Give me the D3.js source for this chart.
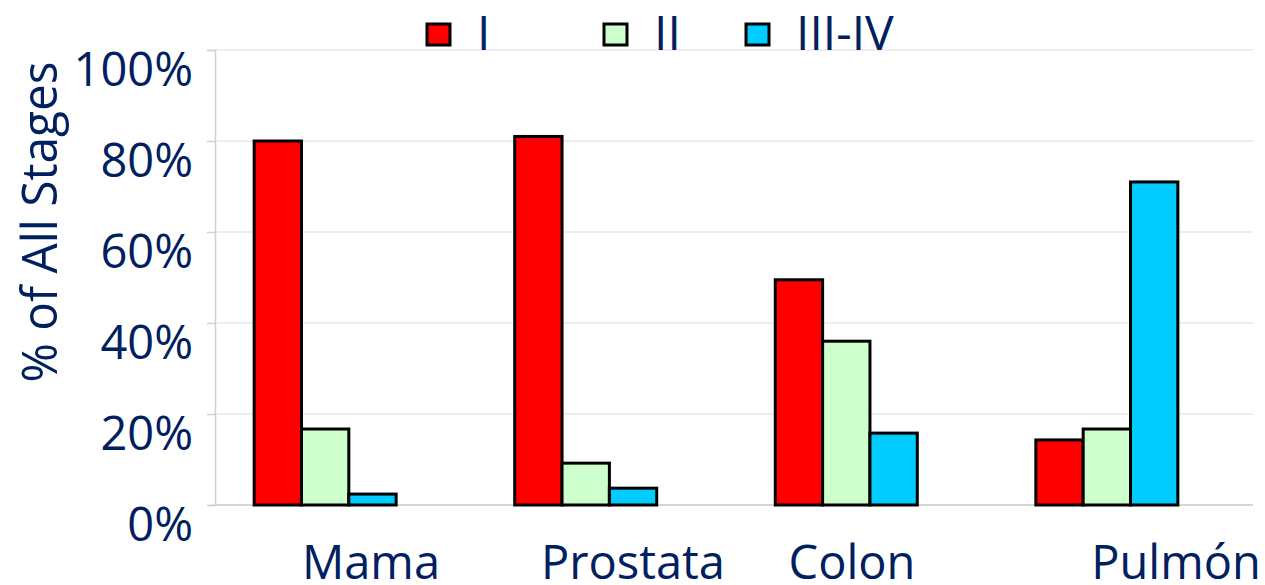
<!DOCTYPE html>
<html><head><meta charset="utf-8">
<script src="https://cdn.jsdelivr.net/npm/d3@7"></script>
<style>body{margin:0;background:#fff}svg{display:block}</style>
</head><body>
<script>
const categories = ["Mama", "Prostata", "Colon", "Pulmón"];
const series = ["I", "II", "III-IV"];
const stageI = [80, 81, 49.5, 14.3];
const stageII = [16.7, 9.2, 36, 16.7];
const stageIIIIV = [2.4, 3.7, 15.8, 71];
const yTicks = [0, 20, 40, 60, 80, 100];
const colors = ["#ff0000", "#ccffcc", "#00ccff"];

const W = 1265, H = 585;
const svg = d3.select("body").append("svg").attr("width", W).attr("height", H);
const navy = "#002060";
const font = "'Open Sans', 'DejaVu Sans', sans-serif";

const y = d3.scaleLinear().domain([0, 100]).range([505, 50]);
const x0 = d3.scaleBand().domain(categories).range([195, 1237]).paddingInner(0.455).paddingOuter(0.227);
const x1 = d3.scaleBand().domain(series).range([0, x0.bandwidth()]);

// gridlines
svg.append("g").selectAll("line").data(yTicks).join("line")
  .attr("x1", 215).attr("x2", 1253)
  .attr("y1", d => y(d)).attr("y2", d => y(d))
  .attr("stroke", d => d === 0 ? "#c8c8c8" : "#e8e8e8").attr("stroke-width", 1.5);

// y axis
const yAxis = d3.axisLeft(y).tickValues(yTicks).tickSize(8).tickFormat(d => d + "%");
const ga = svg.append("g").attr("transform", "translate(215,0)").call(yAxis);
ga.select(".domain").attr("stroke", "#d0d0d0").attr("stroke-width", 1.5);
ga.selectAll(".tick line").attr("stroke", "#d0d0d0").attr("stroke-width", 1.5);
ga.selectAll(".tick text").attr("x", -22).attr("y", 35).attr("dy", 0)
  .attr("fill", navy).style("font-family", font).style("font-size", "47px");

// bars
const rows = categories.map((c, i) => ({c, vals: [stageI[i], stageII[i], stageIIIIV[i]]}));
const g = svg.append("g").selectAll("g").data(rows).join("g")
  .attr("transform", d => `translate(${x0(d.c)},0)`);
g.selectAll("rect").data(d => d.vals.map((v, j) => ({s: series[j], v, j}))).join("rect")
  .attr("x", d => x1(d.s)).attr("width", x1.bandwidth())
  .attr("y", d => y(d.v)).attr("height", d => y(0) - y(d.v))
  .attr("fill", d => colors[d.j]).attr("stroke", "#000").attr("stroke-width", 3);

// x labels (placed as in the reference, offset from the bar groups)
const labelX = d3.scaleOrdinal().domain(categories).range([371, 633, 852, 1176]);
svg.append("g").selectAll("text").data(categories).join("text")
  .attr("x", d => labelX(d)).attr("y", 579)
  .attr("text-anchor", "middle").attr("fill", navy)
  .style("font-family", font).style("font-size", "47px").text(d => d);

// y title
svg.append("text").attr("transform", "translate(57,222) rotate(-90)")
  .attr("text-anchor", "middle").attr("fill", navy)
  .attr("textLength", 321).attr("lengthAdjust", "spacingAndGlyphs")
  .style("font-family", font).style("font-size", "50px").text("% of All Stages");

// legend
const legX = d3.scaleOrdinal().domain(series).range([427, 604, 746]);
const lg = svg.append("g").selectAll("g").data(series).join("g")
  .attr("transform", d => `translate(${legX(d)},0)`);
lg.append("rect").attr("x", 0).attr("y", 24).attr("width", 23).attr("height", 21)
  .attr("fill", (d, i) => colors[i]).attr("stroke", "#000").attr("stroke-width", 3);
lg.append("text").attr("x", 50).attr("y", 50).attr("fill", navy)
  .style("font-family", font).style("font-size", "48px").text(d => d);
</script>
</body></html>
